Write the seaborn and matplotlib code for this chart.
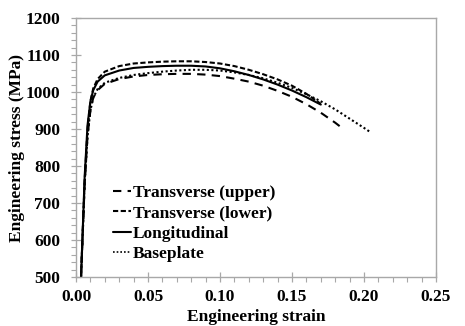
import matplotlib
matplotlib.use("Agg")
import matplotlib.pyplot as plt
import seaborn as sns
import pandas as pd
from matplotlib.ticker import MultipleLocator

# ---- data ----
tu_strain = [0.0035, 0.006, 0.008, 0.010, 0.012, 0.015, 0.02, 0.03, 0.04, 0.05, 0.06, 0.07, 0.08,
             0.09, 0.10, 0.11, 0.12, 0.13, 0.14, 0.15, 0.16, 0.17, 0.18, 0.184]
tu_stress = [500, 750, 880, 950, 985, 1005, 1022, 1035, 1042, 1046, 1048, 1049, 1049,
             1047, 1043, 1036, 1028, 1017, 1003, 987, 967, 944, 917, 905]

tl_strain = [0.0035, 0.006, 0.008, 0.010, 0.012, 0.015, 0.02, 0.03, 0.04, 0.05, 0.06, 0.07, 0.08,
             0.09, 0.10, 0.11, 0.12, 0.13, 0.14, 0.15, 0.16, 0.17]
tl_stress = [500, 760, 900, 975, 1010, 1035, 1055, 1070, 1077, 1080, 1082, 1083, 1083,
             1081, 1077, 1070, 1060, 1048, 1034, 1017, 995, 968]

lo_strain = [0.0035, 0.006, 0.008, 0.010, 0.012, 0.015, 0.02, 0.03, 0.04, 0.05, 0.06, 0.07, 0.08,
             0.09, 0.10, 0.11, 0.12, 0.13, 0.14, 0.15, 0.16, 0.17]
lo_stress = [500, 770, 910, 975, 1005, 1028, 1045, 1058, 1065, 1068, 1070, 1071, 1071,
             1069, 1064, 1056, 1046, 1034, 1020, 1004, 986, 966]

bp_strain = [0.0035, 0.006, 0.008, 0.010, 0.012, 0.015, 0.02, 0.03, 0.04, 0.05, 0.06, 0.07, 0.08,
             0.09, 0.10, 0.11, 0.12, 0.13, 0.14, 0.15, 0.16, 0.17, 0.18, 0.19, 0.20, 0.205]
bp_stress = [500, 750, 880, 950, 985, 1008, 1025, 1038, 1046, 1051, 1055, 1058, 1060,
             1060, 1058, 1053, 1046, 1037, 1025, 1011, 994, 975, 953, 928, 903, 890]

series_names = ["Transverse (upper)", "Transverse (lower)", "Longitudinal", "Baseplate"]
x_ticks = [0.00, 0.05, 0.10, 0.15, 0.20, 0.25]
x_ticklabels = ["0.00", "0.05", "0.10", "0.15", "0.20", "0.25"]
y_ticks = [500, 600, 700, 800, 900, 1000, 1100, 1200]

frames = []
for name, xs, ys in zip(series_names,
                        [tu_strain, tl_strain, lo_strain, bp_strain],
                        [tu_stress, tl_stress, lo_stress, bp_stress]):
    frames.append(pd.DataFrame({"strain": xs, "stress": ys, "series": name}))
df = pd.concat(frames, ignore_index=True)

sns.set_theme(style="white")
plt.rcParams["font.family"] = ["Liberation Serif", "DejaVu Serif"]
plt.rcParams["font.weight"] = "bold"

fig = plt.figure(figsize=(4.65, 3.26), dpi=100)
ax = fig.add_axes([76/465, 1 - 277/326, 360/465, 259/326])

dashes = {
    "Transverse (upper)": (4, 3),
    "Transverse (lower)": (2.5, 1.2),
    "Longitudinal": "",
    "Baseplate": (1, 1.2),
}
sns.lineplot(data=df, x="strain", y="stress", hue="series", style="series",
             hue_order=series_names, style_order=series_names,
             palette=["black"] * 4, dashes=dashes, estimator=None, sort=True,
             linewidth=1.5, ax=ax)
for line in ax.get_lines():
    if line.get_label() == "Baseplate":
        line.set_linewidth(1.2)

ax.set_xlim(0, 0.25)
ax.set_ylim(500, 1200)
ax.set_xticks(x_ticks)
ax.set_xticklabels(x_ticklabels)
ax.set_yticks(y_ticks)
ax.xaxis.set_minor_locator(MultipleLocator(0.01))
ax.yaxis.set_minor_locator(MultipleLocator(20))

spine_col = "#a8a8a8"
for s in ax.spines.values():
    s.set_color(spine_col)
    s.set_linewidth(1.0)
ax.tick_params(which="major", direction="inout", length=7, width=0.9, color=spine_col,
               labelsize=12.5, labelcolor="black", bottom=True, left=True)
ax.tick_params(axis="y", which="major", pad=8)
ax.tick_params(axis="x", which="major", pad=5)
ax.tick_params(which="minor", direction="out", length=3.5, width=0.8, color=spine_col,
               bottom=True, left=True)
for lab in ax.get_xticklabels() + ax.get_yticklabels():
    lab.set_fontweight("bold")

ax.set_xlabel("Engineering strain", fontsize=12.5, fontweight="bold", color="black", labelpad=3)
ax.set_ylabel("Engineering stress (MPa)", fontsize=12.5, fontweight="bold", color="black", labelpad=0)

leg = ax.legend(loc="lower left", bbox_to_anchor=(0.07, 0.01), frameon=False,
                prop={"family": "Liberation Serif", "weight": "bold", "size": 12.5},
                handlelength=1.0, handletextpad=0.12, labelspacing=0.25, borderpad=0.2)
for t in leg.get_texts():
    t.set_color("black")

fig.savefig("out.png", dpi=100)
